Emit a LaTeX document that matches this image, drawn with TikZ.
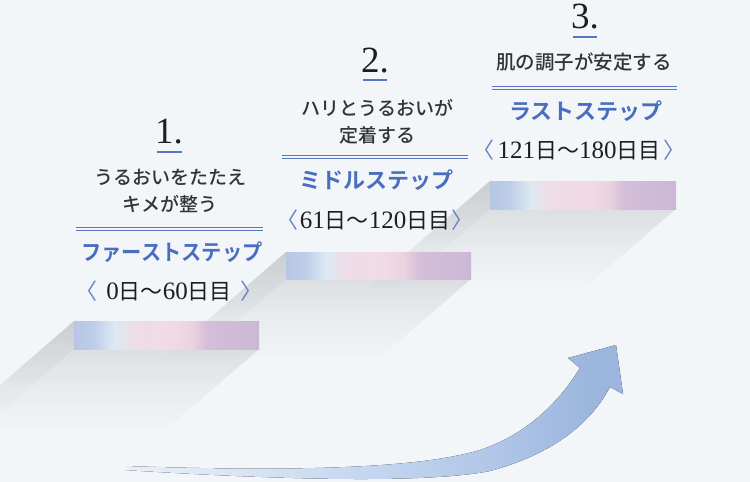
\documentclass[tikz,border=0pt]{standalone}
\usepackage{fontspec}
\usetikzlibrary{fadings}
\setmainfont{Liberation Serif}
\newfontfamily\jp{Noto Sans CJK JP}
\IfFontExistsTF{Noto Sans CJK JP Medium}{\newfontfamily\jpm{Noto Sans CJK JP Medium}}{\newfontfamily\jpm{Noto Sans CJK JP}}
\IfFontExistsTF{Noto Sans CJK JP Black}{\newfontfamily\jpk{Noto Sans CJK JP Black}}{\newfontfamily\jpk{Noto Sans CJK JP}[BoldFont=*,AutoFakeBold=1.5]}
\definecolor{bg}{HTML}{F3F6F8}
\definecolor{numc}{HTML}{1E1E1E}
\definecolor{subc}{HTML}{333333}
\definecolor{ttlc}{HTML}{4A6EBF}
\definecolor{linec}{HTML}{5577C3}
\definecolor{brk}{HTML}{6483C8}
\definecolor{b1}{HTML}{B7C6E6}
\definecolor{b2}{HTML}{BDCCE8}
\definecolor{b3}{HTML}{DDE9F3}
\definecolor{b4}{HTML}{EEDCE7}
\definecolor{b5}{HTML}{F1DAE5}
\definecolor{b6}{HTML}{EAD2E0}
\definecolor{b7}{HTML}{D4BED9}
\definecolor{b8}{HTML}{CBB8D6}
\definecolor{shc}{HTML}{2A2E33}
\definecolor{a1}{HTML}{EAF0FA}
\definecolor{a2}{HTML}{CCDBF2}
\definecolor{a3}{HTML}{AFC5E7}
\definecolor{a4}{HTML}{9BB5DC}
\pgfdeclarehorizontalshading{barshade}{100bp}{color(0bp)=(b1); color(25bp)=(b1); color(30bp)=(b2); color(36bp)=(b3); color(41bp)=(b4); color(52bp)=(b5); color(57bp)=(b6); color(61bp)=(b7); color(75bp)=(b8); color(100bp)=(b8)}
\pgfdeclarehorizontalshading{arrowshade}{100bp}{color(0bp)=(a1); color(25bp)=(a1); color(45bp)=(a2); color(63bp)=(a3); color(72bp)=(a4); color(100bp)=(a4)}
\begin{tikzfadingfrompicture}[name=shfade]
  \fill[transparent!100] (-50bp,-50bp) rectangle (50bp,50bp);
  \fill[transparent!0] (-50bp,24bp) rectangle (50bp,50bp);
  \shade[top color=transparent!0, bottom color=transparent!65] (-50bp,4bp) rectangle (50bp,25bp);
  \shade[top color=transparent!65, bottom color=transparent!100] (-50bp,-10bp) rectangle (50bp,5bp);
\end{tikzfadingfrompicture}
\begin{document}
\begin{tikzpicture}[x=1pt,y=-1pt,
  num/.style={font=\fontsize{37}{37}\selectfont, text=numc, inner sep=0pt, anchor=base},
  sub/.style={font=\jpm\fontsize{19}{19}\selectfont, text=subc, inner sep=0pt},
  ttl/.style={font=\jpk\bfseries\fontsize{22}{22}\selectfont, text=ttlc, inner sep=0pt},
  rng/.style={font=\fontsize{25}{25}\selectfont, text=numc, inner sep=0pt},
  ul/.style={draw=linec, line width=1.2pt},
  dbl/.style={draw=linec, line width=0.9pt},
  bar/.style={shading=barshade},
  shadow/.style={fill=shc, fill opacity=0.15, path fading=shfade},
  side/.style={fill=shc, fill opacity=0.06, path fading=shfade}
]
\newcommand\jd[1]{{\jp\fontsize{22}{22}\selectfont #1}}
\newcommand\lb{{\color{brk}\jp\fontsize{22}{22}\selectfont 〈}}
\newcommand\rb{{\color{brk}\jp\fontsize{22}{22}\selectfont 〉}}
\fill[bg] (0,0) rectangle (750,482);
\useasboundingbox (0,0) rectangle (750,482);
% shadows, sweep direction (-150,130)
\path[shadow] (490,181) -- (676,209) -- (526,339) -- (340,311) -- cycle;
\path[side] (490,181) -- (490,209) -- (340,339) -- (340,311) -- cycle;
\path[shadow] (286,252) -- (471,279) -- (321,409) -- (136,382) -- cycle;
\path[side] (286,252) -- (286,279) -- (136,409) -- (136,382) -- cycle;
\path[shadow] (74,321) -- (259,349) -- (109,479) -- (-76,451) -- cycle;
\path[side] (74,321) -- (74,349) -- (-76,479) -- (-76,451) -- cycle;
% bars
\fill[bar] (74,321) rectangle (259,349);
\fill[bar] (286,252) rectangle (471,279);
\fill[bar] (490,181) rectangle (676,209);
% arrow
\fill[shading=arrowshade] (125,466) .. controls (300,472) and (420,468) .. (480,450)
  .. controls (530,433) and (560,400) .. (580,368) -- (568,358) -- (616,345) -- (623,394) -- (610,387)
  .. controls (590,425) and (550,455) .. (490,471) .. controls (420,485) and (250,478) .. (125,470) -- cycle;
% step 1
\node[num] (n1) at (169,143) {1.};
\draw[ul] (157,152) -- (182,152);
\node[sub] (s1a) at (170,177) {うるおいをたたえ};
\node[sub] (s1b) at (170,204) {キメが整う};
\draw[dbl] (76,227) -- (263,227);
\draw[dbl] (76,230) -- (263,230);
\node[ttl, xscale=0.92] (t1) at (172,252) {ファーストステップ};
\node[rng] (r1) at (169,291) {\lb\hspace{9pt}0\jd{日〜}60\jd{日目}\hspace{9pt}\rb};
% step 2
\node[num] (n2) at (375,72) {2.};
\draw[ul] (363,80) -- (387,80);
\node[sub] (s2a) at (377,108) {ハリとうるおいが};
\node[sub] (s2b) at (377,135) {定着する};
\draw[dbl] (282,155) -- (468,155);
\draw[dbl] (282,158) -- (468,158);
\node[ttl] (t2) at (376,180) {ミドルステップ};
\node[rng] (r2) at (375,220) {\lb\hspace{1pt}61\jd{日〜}120\jd{日目}\hspace{1pt}\rb};
% step 3
\node[num] (n3) at (585,28) {3.};
\draw[ul] (573,37) -- (597,37);
\node[sub, font=\jpm\fontsize{19.5}{19.5}\selectfont] (s3a) at (584,62) {肌の調子が安定する};
\draw[dbl] (492,86) -- (677,86);
\draw[dbl] (492,89) -- (677,89);
\node[ttl] (t3) at (586,111) {ラストステップ};
\node[rng] (r3) at (579,150) {\lb\hspace{3pt}121\jd{日〜}180\jd{日目}\hspace{3pt}\rb};
\end{tikzpicture}
\end{document}
